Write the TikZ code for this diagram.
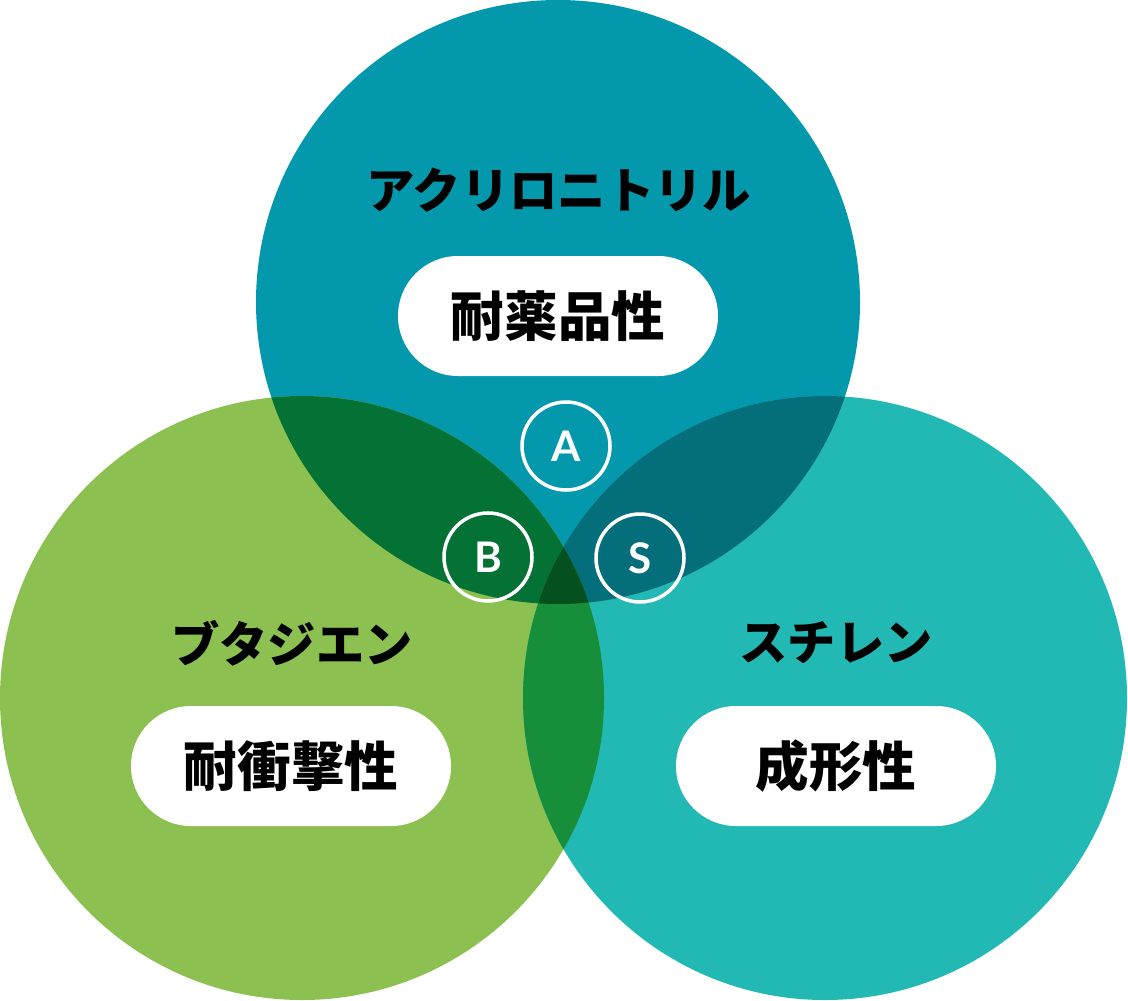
\documentclass[tikz,border=0pt]{standalone}
\usepackage{fontspec}
\newfontfamily\jp{Noto Sans CJK JP}
\newfontfamily\lato{Lato}
\definecolor{topc}{HTML}{0398AC}
\definecolor{leftc}{HTML}{8CC152}
\definecolor{rightc}{HTML}{22B8B3}
\definecolor{tlc}{HTML}{047234}
\definecolor{trc}{HTML}{046E7A}
\definecolor{lrc}{HTML}{168E3A}
\definecolor{midc}{HTML}{04501F}
\begin{document}
\begin{tikzpicture}[x=0.02cm, y=-0.02cm]

\tikzset{
  title/.style={font=\jp\bfseries\fontsize{27.5}{29}\selectfont, text=black},
  pill/.style={fill=white, rounded corners=60*0.02cm, minimum width=320*0.02cm, minimum height=120*0.02cm,
    font=\jp\bfseries\fontsize{30.5}{32}\selectfont, text=black},
  badge/.style={circle, draw=white, line width=2pt, minimum size=88*0.02cm,
    font=\lato\bfseries\fontsize{24}{26}\selectfont, text=white}
}

\useasboundingbox (0,0) rectangle (1128,1000);

% Circles
\coordinate (ctop) at (558,302);
\coordinate (cleft) at (302,698);
\coordinate (cright) at (825,698);
\def\rad{302}

\fill[topc] (ctop) circle (\rad);
\fill[leftc] (cleft) circle (\rad);
\fill[rightc] (cright) circle (\rad);

% Overlaps
\begin{scope}
  \clip (ctop) circle (\rad);
  \fill[tlc] (cleft) circle (\rad);
  \fill[trc] (cright) circle (\rad);
\end{scope}
\begin{scope}
  \clip (cleft) circle (\rad);
  \fill[lrc] (cright) circle (\rad);
\end{scope}
\begin{scope}
  \clip (ctop) circle (\rad);
  \clip (cleft) circle (\rad);
  \fill[midc] (cright) circle (\rad);
\end{scope}

% Acrylonitrile
\node[title] (tA) at (559,190) {アクリロニトリル};
\node[pill] (pA) at (558,316) {耐薬品性};

% Butadiene
\node[title] (tB) at (292,643) {ブタジエン};
\node[pill] (pB) at (291,766) {耐衝撃性};

% Styrene
\node[title] (tS) at (836,643) {スチレン};
\node[pill] (pS) at (836,766) {成形性};

% Letters
\node[badge] (bA) at (566,446) {A};
\node[badge] (bB) at (488,557) {B};
\node[badge] (bS) at (640,558) {S};

\end{tikzpicture}
\end{document}
